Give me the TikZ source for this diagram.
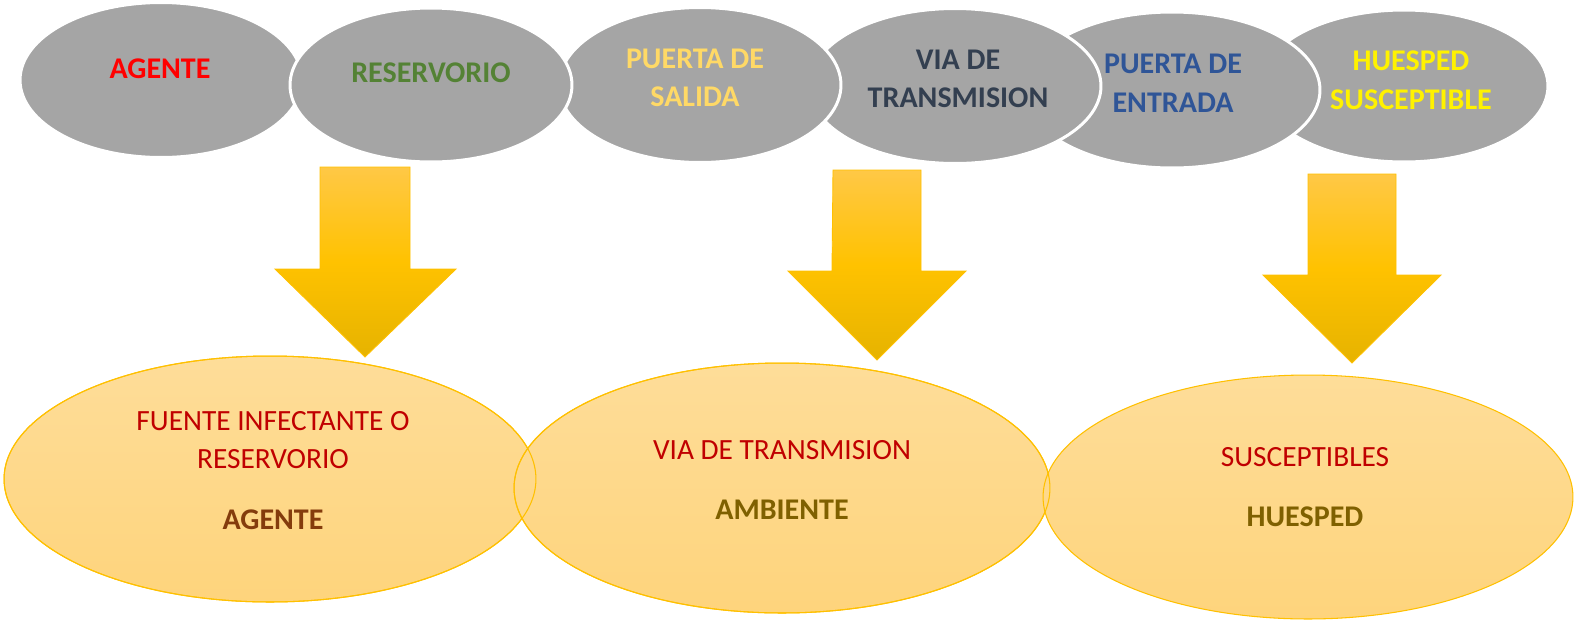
\documentclass[tikz,border=0pt]{standalone}
\usepackage{fontspec}
\setmainfont{Carlito}
\usetikzlibrary{positioning}
\usetikzlibrary{shapes.geometric}
\definecolor{oval-gray}{RGB}{165,165,165}
\definecolor{oval-top}{RGB}{254,221,153}
\definecolor{oval-bottom}{RGB}{254,212,124}
\definecolor{oval-line}{RGB}{255,192,0}
\definecolor{arrow-top}{RGB}{255,200,70}
\definecolor{arrow-mid}{RGB}{255,194,0}
\definecolor{arrow-bottom}{RGB}{230,179,0}
\definecolor{txt-green}{RGB}{84,130,53}
\definecolor{txt-gold}{RGB}{255,217,102}
\definecolor{txt-slate}{RGB}{51,63,80}
\definecolor{txt-blue}{RGB}{47,85,151}
\definecolor{txt-darkred}{RGB}{192,0,0}
\definecolor{txt-brown}{RGB}{132,60,12}
\definecolor{txt-olive}{RGB}{127,96,0}

\begin{document}
\begin{tikzpicture}[x=0.02cm, y=-0.02cm,
topoval/.style={ellipse, inner sep=0pt, fill=oval-gray, draw=white, line width=1.7pt},
lowoval/.style={ellipse, inner sep=0pt, top color=oval-top, bottom color=oval-bottom, draw=oval-line, line width=0.6pt},
lowline/.style={ellipse, inner sep=0pt, draw=oval-line, line width=0.6pt},
lbl/.style={font=\fontsize{17.1}{22}\selectfont\bfseries, align=center, inner sep=0pt},
lbl2/.style={font=\fontsize{16.7}{21.5}\selectfont, align=center, inner sep=0pt},
flecha/.style={draw=oval-line, line width=0.5pt, top color=arrow-top, bottom color=arrow-bottom, middle color=arrow-mid}]
\useasboundingbox (0,0) rectangle (1575,623);

% top chain of ovals (right to left, reservorio over agente)
\node [topoval, minimum width=5.76cm, minimum height=3.04cm] (e6) at (1404,86) {};
\node [topoval, minimum width=5.92cm, minimum height=3.12cm] (e5) at (1172,90) {};
\node [topoval, minimum width=5.84cm, minimum height=3.10cm] (e4) at (955,86) {};
\node [topoval, minimum width=5.64cm, minimum height=3.10cm] (e3) at (700,85) {};
\node [topoval, minimum width=5.64cm, minimum height=3.10cm] (e1) at (161,80) {};
\node [topoval, minimum width=5.64cm, minimum height=3.08cm] (e2) at (431,85) {};

% texts of the chain
\node [lbl, text=red] (agente) at (160,69) {AGENTE};
\node [lbl, text=txt-green] (reservorio) at (431,73) {RESERVORIO};
\node [lbl, text=txt-gold] (salida) at (695,78) {PUERTA DE\\SALIDA};
\node [lbl, text=txt-slate] (via) at (958,79) {VIA DE\\TRANSMISION};
\node [lbl, text=txt-blue] (entrada) at (1173,83) {PUERTA DE\\ENTRADA};
\node [lbl, text=yellow] (huesped) at (1411,80) {HUESPED\\SUSCEPTIBLE};

% block arrows
\shade [flecha] (320,167) -- ++(90,0) -- ++(0,102) -- ++(46,0) -- ++(-91,88) -- ++(-90,-88) -- ++(45,0) -- cycle;
\shade [flecha] (833,170) -- ++(88,0) -- ++(0,101) -- ++(45,0) -- ++(-89,89) -- ++(-89,-89) -- ++(44,0) -- cycle;
\shade [flecha] (1308,174) -- ++(88,0) -- ++(0,101) -- ++(45,0) -- ++(-89,88) -- ++(-89,-88) -- ++(45,0) -- cycle;

% bottom ovals
\node [lowoval, minimum width=10.64cm, minimum height=4.92cm] (b1) at (270,479) {};
\node [lowoval, minimum width=10.72cm, minimum height=5.00cm] (b2) at (782,488) {};
\node [lowoval, minimum width=10.60cm, minimum height=4.88cm] (b3) at (1308,497) {};
% again the outlines on top
\node [lowline, minimum width=10.64cm, minimum height=4.92cm] (b1o) at (b1) {};
\node [lowline, minimum width=10.72cm, minimum height=5.00cm] (b2o) at (b2) {};

% texts of the bottom ovals
\node [lbl2, text=txt-darkred] (fuente) at (273,440) {FUENTE INFECTANTE O\\RESERVORIO};
\node [lbl, text=txt-brown] (tagente) at (273,520) {AGENTE};
\node [lbl2, text=txt-darkred] (tvia) at (782,450) {VIA DE TRANSMISION};
\node [lbl, text=txt-olive] (ambiente) at (782,510) {AMBIENTE};
\node [lbl2, text=txt-darkred] (susceptibles) at (1305,457) {SUSCEPTIBLES};
\node [lbl, text=txt-olive] (thuesped) at (1305,517) {HUESPED};
\end{tikzpicture}
\end{document}
